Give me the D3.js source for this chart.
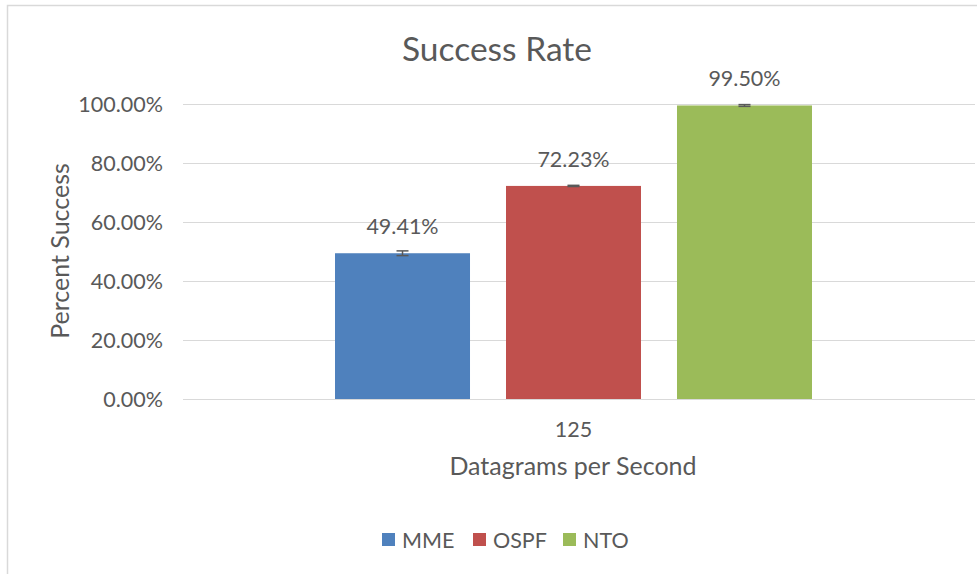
<!DOCTYPE html>
<html><head><meta charset="utf-8">
<script src="https://cdn.jsdelivr.net/npm/d3@7"></script>
<style>body{margin:0;background:#fff}svg{display:block}text{font-family:Lato,"Open Sans",sans-serif;fill:#595959}</style>
</head><body><svg id="c" width="977" height="574"></svg>
<script>
const categories = ["125"];
const seriesNames = ["MME", "OSPF", "NTO"];
const seriesValues = [49.41, 72.23, 99.50];
const seriesErrors = [0.8, 0.2, 0.3];
const seriesColors = ["#4F81BD", "#C0504D", "#9BBB59"];
const yTicks = [0, 20, 40, 60, 80, 100];

(function(){
const svg = d3.select("#c");
svg.append("rect").attr("x", 7.5).attr("y", 5.5).attr("width", 1000).attr("height", 600)
  .attr("fill", "#fff").attr("stroke", "#d9d9d9").attr("stroke-width", 1.5);

const pl = 183, pr = 964, pt = 104, pb = 399;
const y = d3.scaleLinear().domain([0, 100]).range([pb, pt]);
const x0 = d3.scaleBand().domain(categories).range([pl, pr]).paddingOuter(0.3187).paddingInner(0);
const x1 = d3.scaleBand().domain(seriesNames).range([0, x0.bandwidth()]).paddingInner(0.2105).paddingOuter(0);

svg.append("g").selectAll("line").data(yTicks).join("line")
  .attr("x1", pl).attr("x2", 975).attr("y1", d => Math.round(y(d)) + 0.5).attr("y2", d => Math.round(y(d)) + 0.5)
  .attr("stroke", "#d9d9d9").attr("stroke-width", 1);

const yAxis = d3.axisLeft(y).tickValues(yTicks).tickSize(0).tickPadding(20).tickFormat(d => d.toFixed(2) + "%");
const ya = svg.append("g").attr("transform", `translate(${pl},0)`).call(yAxis);
ya.select(".domain").remove();
ya.selectAll("text").style("font-size", "21.5px").attr("fill", "#595959").attr("dy", "0.35em");

const xAxis = d3.axisBottom(x0).tickSize(0).tickPadding(23);
const xa = svg.append("g").attr("transform", `translate(0,${pb})`).call(xAxis);
xa.select(".domain").remove();
xa.selectAll("text").style("font-size", "21.5px").attr("fill", "#595959");

const g = svg.append("g").attr("transform", `translate(${x0(categories[0])},0)`);
g.selectAll("rect.bar").data(seriesNames).join("rect").attr("class", "bar")
  .attr("x", d => x1(d)).attr("width", x1.bandwidth())
  .attr("y", (d, i) => y(seriesValues[i])).attr("height", (d, i) => y(0) - y(seriesValues[i]))
  .attr("fill", (d, i) => seriesColors[i]);

const eb = g.selectAll("g.err").data(seriesNames).join("g").attr("class", "err");
eb.append("line").attr("x1", d => x1(d) + x1.bandwidth() / 2).attr("x2", d => x1(d) + x1.bandwidth() / 2)
  .attr("y1", (d, i) => y(seriesValues[i] + seriesErrors[i])).attr("y2", (d, i) => y(seriesValues[i] - seriesErrors[i]))
  .attr("stroke", "#595959").attr("stroke-width", 1.5);
[1, -1].forEach(s => {
  eb.append("line").attr("x1", d => x1(d) + x1.bandwidth() / 2 - 6).attr("x2", d => x1(d) + x1.bandwidth() / 2 + 6)
    .attr("y1", (d, i) => y(seriesValues[i] + s * seriesErrors[i])).attr("y2", (d, i) => y(seriesValues[i] + s * seriesErrors[i]))
    .attr("stroke", "#595959").attr("stroke-width", 1.5);
});

g.selectAll("text.lbl").data(seriesNames).join("text").attr("class", "lbl")
  .attr("x", d => x1(d) + x1.bandwidth() / 2).attr("y", (d, i) => y(seriesValues[i]) - 19)
  .attr("text-anchor", "middle").style("font-size", "21.5px").text((d, i) => seriesValues[i].toFixed(2) + "%");

svg.append("text").attr("x", 497).attr("y", 61).attr("text-anchor", "middle").style("font-size", "33.5px").text("Success Rate");
svg.append("text").attr("x", 573).attr("y", 475).attr("text-anchor", "middle").style("font-size", "25px").text("Datagrams per Second");
svg.append("text").attr("transform", "translate(69,251) rotate(-90)").attr("text-anchor", "middle").style("font-size", "25px").text("Percent Success");

const legX = [382, 473, 563];
const lg = svg.append("g").selectAll("g").data(seriesNames).join("g").attr("transform", (d, i) => `translate(${legX[i]},533)`);
lg.append("rect").attr("width", 13).attr("height", 13).attr("fill", (d, i) => seriesColors[i]);
lg.append("text").attr("x", 20).attr("y", 7).attr("dy", "0.35em").style("font-size", "21.5px").text(d => d);
})();
</script></body></html>
